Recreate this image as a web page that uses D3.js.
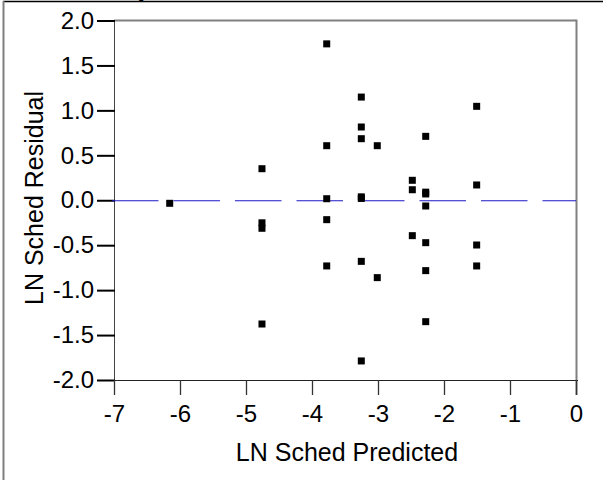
<!DOCTYPE html>
<html>
<head>
<meta charset="utf-8">
<script src="https://cdn.jsdelivr.net/npm/d3@7"></script>
<style>
  body { margin: 0; background: #fff; }
  svg { display: block; font-family: "Liberation Sans", Arial, sans-serif; }
</style>
</head>
<body>
<svg id="chart" width="603" height="483"></svg>
<script>
// residual by predicted values
const predicted = [-6.156, -4.758, -4.758, -4.758, -4.758,
  -3.777, -3.777, -3.777, -3.777, -3.777,
  -3.253, -3.253, -3.253, -3.253, -3.253, -3.253, -3.253,
  -3.011, -3.011,
  -2.48, -2.48, -2.48,
  -2.277, -2.277, -2.277, -2.277, -2.277, -2.277, -2.277,
  -1.505, -1.505, -1.505, -1.505]
const residual = [-0.034, 0.351, -0.251, -0.312, -1.377,
  1.74, 0.607, 0.017, -0.216, -0.731,
  1.148, 0.815, 0.685, 0.038, 0.02, -0.68, -1.788,
  0.607, -0.861,
  0.222, 0.117, -0.394,
  0.711, 0.09, 0.07, -0.064, -0.472, -0.783, -1.351,
  1.045, 0.17, -0.498, -0.731]
const xTicks = [-7, -6, -5, -4, -3, -2, -1, 0]
const yTicks = [2.0, 1.5, 1.0, 0.5, 0.0, -0.5, -1.0, -1.5, -2.0]

const svg = d3.select('#chart')

let plotLeft = 114
let plotRight = 576
let plotTop = 20.5
let plotBottom = 380

let x = d3.scaleLinear().domain([-7, 0]).range([plotLeft, plotRight])
let y = d3.scaleLinear().domain([-2, 2]).range([plotBottom, plotTop])

// title, cut off above the frame (only a descender shows)
svg.append('text')
  .attr('x', 47)
  .attr('y', -2)
  .attr('font-size', 18)
  .attr('font-weight', 'bold')
  .text('Residual by Predicted Plot')

// outer frame (only top and left visible)
svg.append('line')
  .attr('x1', 3).attr('x2', 603).attr('y1', 1.5).attr('y2', 1.5)
  .attr('stroke', '#000').attr('stroke-width', 1.5)
svg.append('line')
  .attr('x1', 3.5).attr('x2', 3.5).attr('y1', 1).attr('y2', 480)
  .attr('stroke', '#808080').attr('stroke-width', 2)

// plot frame
svg.append('line')
  .attr('x1', plotLeft).attr('x2', plotRight).attr('y1', plotTop).attr('y2', plotTop)
  .attr('stroke', '#808080').attr('stroke-width', 2)
svg.append('line')
  .attr('x1', plotRight + 0.5).attr('x2', plotRight + 0.5).attr('y1', plotTop - 1).attr('y2', plotBottom + 15)
  .attr('stroke', '#808080').attr('stroke-width', 2)
svg.append('line')
  .attr('x1', plotLeft).attr('x2', plotRight + 2).attr('y1', plotBottom + 0.5).attr('y2', plotBottom + 0.5)
  .attr('stroke', '#222').attr('stroke-width', 1)
svg.append('line')
  .attr('x1', plotLeft + 0.5).attr('x2', plotLeft + 0.5).attr('y1', plotTop).attr('y2', plotBottom + 15)
  .attr('stroke', '#444').attr('stroke-width', 1)

// y axis
let yAxis = svg.append('g')
  .attr('transform', `translate(${plotLeft + 1},0)`)
  .call(d3.axisLeft(y).tickValues(yTicks).tickSize(18).tickPadding(3))
yAxis.select('.domain').remove()
yAxis.selectAll('line').attr('stroke', '#000').attr('stroke-width', 2)
yAxis.selectAll('text')
  .attr('font-size', 24)
  .attr('fill', '#000')
  .attr('font-family', '"Liberation Sans", Arial, sans-serif')
  .text(d => d3.format('.1f')(d).replace('−', '-'))

// x axis
let xAxis = svg.append('g')
  .attr('transform', `translate(0,${plotBottom})`)
  .call(d3.axisBottom(x).tickValues(xTicks).tickSize(15).tickPadding(10))
xAxis.select('.domain').remove()
xAxis.selectAll('line').attr('stroke', '#333').attr('stroke-width', 1.3)
xAxis.selectAll('text')
  .attr('font-size', 24)
  .attr('fill', '#000')
  .attr('font-family', '"Liberation Sans", Arial, sans-serif')
  .text(d => String(d).replace('−', '-'))

// zero reference line
svg.append('line')
  .attr('x1', plotLeft - 2).attr('x2', plotRight)
  .attr('y1', y(0) + 0.5).attr('y2', y(0) + 0.5)
  .attr('stroke', '#1c18c8').attr('stroke-width', 1.2)
  .attr('stroke-dasharray', '46.5 15')

// points
let pts = predicted.map((p, i) => ({ p: p, r: residual[i] }))
svg.selectAll('rect.pt')
  .data(pts)
  .enter()
  .append('rect')
  .attr('class', 'pt')
  .attr('x', d => x(d.p) - 3.5)
  .attr('y', d => y(d.r) - 3.5)
  .attr('width', 7)
  .attr('height', 7)
  .attr('fill', '#000')

// axis titles
svg.append('text')
  .attr('x', (plotLeft + plotRight) / 2 + 2)
  .attr('y', 461)
  .attr('text-anchor', 'middle')
  .attr('font-size', 25)
  .text('LN Sched Predicted')

svg.append('text')
  .attr('transform', `translate(43,198) rotate(-90)`)
  .attr('text-anchor', 'middle')
  .attr('font-size', 25)
  .text('LN Sched Residual')
</script>
</body>
</html>
